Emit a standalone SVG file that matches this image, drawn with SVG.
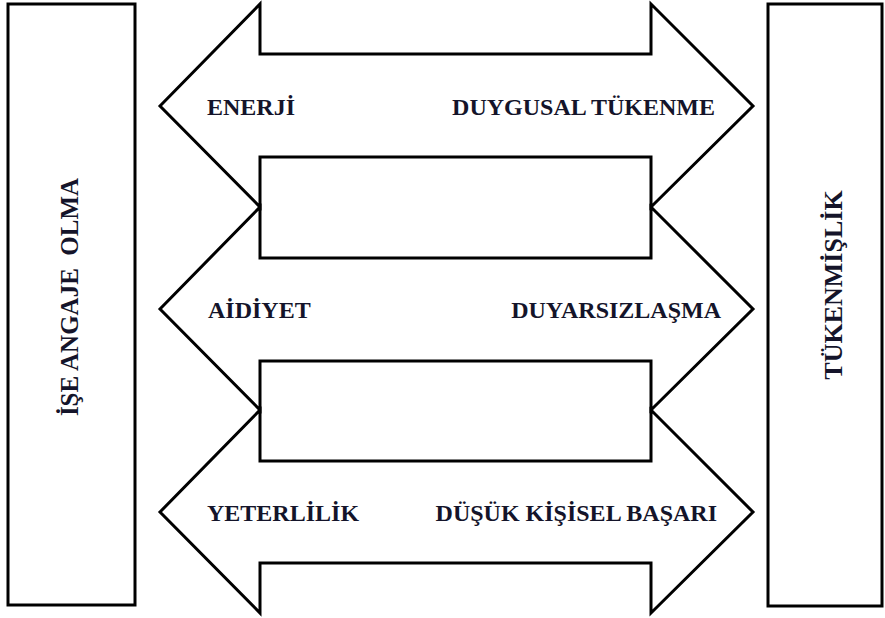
<svg xmlns="http://www.w3.org/2000/svg" width="885" height="618" viewBox="0 0 885 618">
  <style>
    .box { fill: #ffffff; stroke: #000000; stroke-width: 3; }
    .arrow { fill: #ffffff; stroke: #000000; stroke-width: 3; stroke-linejoin: miter; }
    .lbl { font-family: "Liberation Serif", "Times New Roman", serif; font-weight: bold; font-size: 24px; fill: #14142a; }
    .side { font-family: "Liberation Serif", "Times New Roman", serif; font-weight: bold; fill: #14142a; }
  </style>
  <rect x="0" y="0" width="885" height="618" fill="#ffffff"/>

  <!-- side panels -->
  <g id="ise-angaje-olma">
    <rect class="box" x="8" y="4" width="127" height="601"/>
    <text class="side" font-size="25" x="78" y="297" text-anchor="middle" transform="rotate(-90 78 297)" xml:space="preserve">İŞE ANGAJE  OLMA</text>
  </g>
  <g id="tukenmislik">
    <rect class="box" x="768" y="4" width="114" height="602"/>
    <text class="side" font-size="26" x="842" y="285" text-anchor="middle" transform="rotate(-90 842 285)">TÜKENMİŞLİK</text>
  </g>

  <!-- double-headed arrows linking the two panels -->
  <g id="connectors">
    <polygon class="arrow" points="160,106 260,4 260,54 651,54 651,4 753,106 651,207 651,157 260,157 260,207"/>
    <polygon class="arrow" points="160,309 260,207 260,258 651,258 651,207 753,309 651,410 651,361 260,361 260,410"/>
    <polygon class="arrow" points="160,512 260,410 260,461 651,461 651,410 753,512 651,613 651,563 260,563 260,613"/>
  </g>

  <g id="arrow-1-labels">
    <text class="lbl" x="207" y="115">ENERJİ</text>
    <text class="lbl" x="715" y="115" text-anchor="end">DUYGUSAL TÜKENME</text>
  </g>
  <g id="arrow-2-labels">
    <text class="lbl" x="208" y="318">AİDİYET</text>
    <text class="lbl" x="721" y="318" text-anchor="end">DUYARSIZLAŞMA</text>
  </g>
  <g id="arrow-3-labels">
    <text class="lbl" x="207" y="521">YETERLİLİK</text>
    <text class="lbl" x="717" y="521" text-anchor="end">DÜŞÜK KİŞİSEL BAŞARI</text>
  </g>
</svg>
